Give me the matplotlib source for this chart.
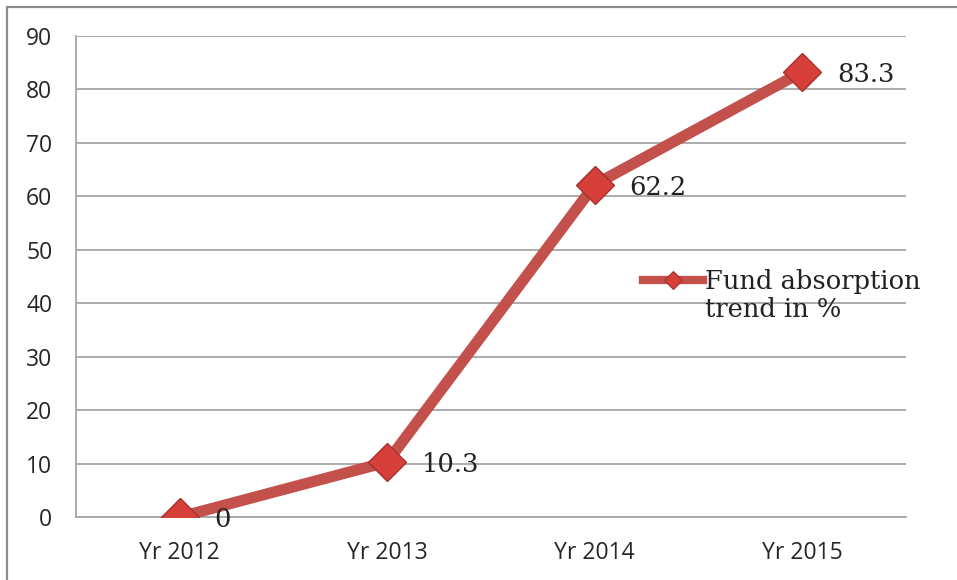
import matplotlib
matplotlib.use("Agg")
import matplotlib.pyplot as plt
from matplotlib.lines import Line2D
from matplotlib.patches import Rectangle

categories = ["Yr 2012", "Yr 2013", "Yr 2014", "Yr 2015"]
values = [0, 10.3, 62.2, 83.3]
value_labels = ["0", "10.3", "62.2", "83.3"]
series_name_line1 = "Fund absorption"
series_name_line2 = "trend in %"
yticks = [0, 10, 20, 30, 40, 50, 60, 70, 80, 90]

line_color = "#C4504B"
marker_face = "#D63F3A"
marker_edge = "#A5302C"
grid_color = "#A6A6A6"

fig = plt.figure(figsize=(9.57, 5.80), dpi=100)
fig.patch.set_facecolor("white")

# outer frame (left and top edges visible)
fig.add_artist(Rectangle((7 / 957, -0.05), 1.2, (580 - 7) / 580 + 0.05,
                         transform=fig.transFigure, fill=False,
                         edgecolor="#8C8C8C", linewidth=1.6))

ax = fig.add_axes([76 / 957, 1 - 517 / 580, (906 - 76) / 957, (517 - 36) / 580])
x = list(range(len(categories)))
ax.plot(x, values, color=line_color, linewidth=8, solid_capstyle="round",
        marker="D", markersize=19.5, markerfacecolor=marker_face,
        markeredgecolor=marker_edge, markeredgewidth=1.0, zorder=3)

for xi, v, lab in zip(x, values, value_labels):
    ax.annotate(lab, (xi, v), xytext=(25, -2), textcoords="offset points",
                ha="left", va="center", fontsize=18.5, family="DejaVu Serif",
                color="#222222", zorder=4)

ax.set_xlim(-0.5, len(categories) - 0.5)
ax.set_ylim(0, 90)
ax.set_yticks(yticks)
ax.set_xticks(x)
ax.set_xticklabels(categories)
ax.yaxis.grid(True, color=grid_color, linewidth=1.3)
ax.set_axisbelow(True)
ax.tick_params(axis="both", length=0, labelsize=16.5, colors="#262626")
ax.tick_params(axis="y", pad=17)
ax.tick_params(axis="x", pad=17)
for lab in ax.get_xticklabels() + ax.get_yticklabels():
    lab.set_family("Open Sans")
for side in ["top", "right"]:
    ax.spines[side].set_visible(False)
ax.spines["left"].set_color(grid_color)
ax.spines["bottom"].set_color(grid_color)
ax.spines["left"].set_linewidth(1.3)
ax.spines["bottom"].set_linewidth(1.3)

legend_fs = 18.5
handle = Line2D([], [], color=line_color, linewidth=6, marker="D",
                markersize=9, markerfacecolor=marker_face,
                markeredgecolor=marker_edge, markeredgewidth=0.8)
leg = ax.legend([handle], [series_name_line1], loc="center left",
                bbox_to_anchor=(0.683, 0.49), frameon=False,
                prop={"family": "DejaVu Serif", "size": legend_fs},
                handlelength=2.35, handletextpad=0.08,
                borderpad=0, borderaxespad=0)
leg.set_zorder(5)
leg.get_texts()[0].set_color("#222222")
ax.annotate(series_name_line2, xy=(0, 0), xycoords=leg.get_texts()[0],
            xytext=(0, -2), textcoords="offset points", ha="left", va="top",
            fontsize=legend_fs, family="DejaVu Serif", color="#222222",
            zorder=10, annotation_clip=False)

fig.savefig("out.png", dpi=100)
